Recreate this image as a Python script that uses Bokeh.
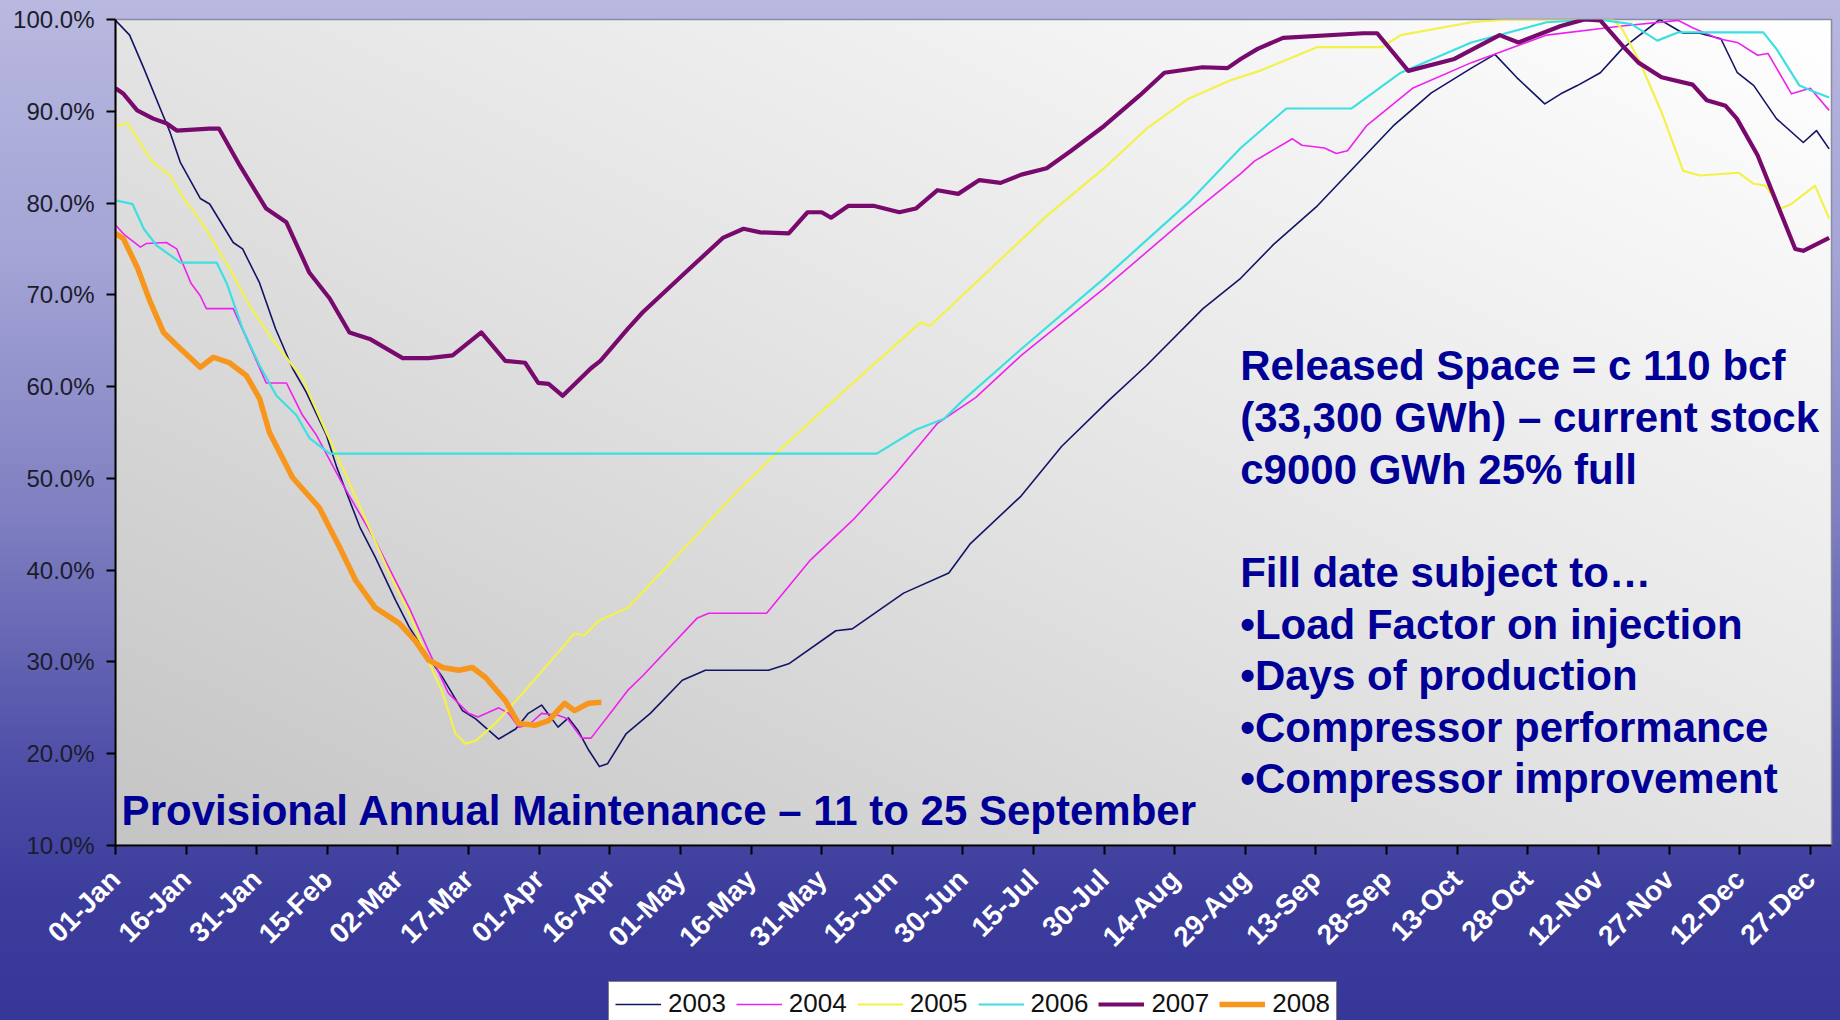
import math
from bokeh.plotting import figure
from bokeh.layouts import column
from bokeh.models import (ColumnDataSource, FixedTicker, PrintfTickFormatter,
                          Label, Legend, LegendItem)
from bokeh.embed import file_html
from bokeh.resources import INLINE

# ---------------- data (day of year, % full) ----------------
TICK_DAYS = list(range(0, 361, 15))
TICK_LABELS = ["01-Jan", "16-Jan", "31-Jan", "15-Feb", "02-Mar", "17-Mar", "01-Apr",
               "16-Apr", "01-May", "16-May", "31-May", "15-Jun", "30-Jun", "15-Jul",
               "30-Jul", "14-Aug", "29-Aug", "13-Sep", "28-Sep", "13-Oct", "28-Oct",
               "12-Nov", "27-Nov", "12-Dec", "27-Dec"]
Y_TICKS = [10, 20, 30, 40, 50, 60, 70, 80, 90, 100]

DAYS_2003 = [0, 3, 6, 9.5, 11.6, 13.8, 18, 20, 25, 27, 30.6, 34, 37.6, 40.5, 44.8, 47, 51.9,
             55.2, 59.5, 62.4, 66.5, 69.5, 73.7, 76.5, 81.4, 85, 87.7, 90.5, 94, 96.2, 98.3,
             100.5, 102.8, 104.5, 108.5, 113.6, 120.4, 125.3, 138.7, 143, 153, 156.5, 167.4,
             177, 181.6, 192.4, 201, 211, 219, 231, 239, 246, 255.3, 271.4, 279.5, 288, 293,
             297.6, 303.6, 307, 310.5, 315.4, 320, 328, 333, 336.5, 341, 344.5, 348, 352.8,
             358.5, 361.3, 364]
PCT_2003 = [99.9, 98.3, 94.7, 90.3, 87.7, 84.4, 80.5, 79.9, 75.7, 75.0, 71.3, 66.3, 62.0, 59.4,
            54.7, 51.2, 44.7, 41.4, 36.7, 33.8, 30.5, 28.3, 24.7, 23.8, 21.6, 22.7, 24.4, 25.3,
            22.9, 23.9, 22.5, 20.4, 18.6, 18.9, 22.2, 24.4, 28.0, 29.1, 29.1, 29.8, 33.4, 33.6,
            37.5, 39.7, 42.9, 48.1, 53.5, 58.5, 62.3, 68.5, 71.8, 75.5, 79.7, 88.4, 92.0, 94.7,
            96.2, 93.7, 90.8, 91.9, 92.8, 94.2, 96.8, 100.0, 98.5, 98.5, 97.9, 94.2, 92.8, 89.2,
            86.6, 87.9, 85.9]

DAYS_2004 = [0, 2, 5.3, 6.6, 10.8, 13, 16, 18, 19.3, 25, 28.5, 32, 36.3, 39.7, 42.7, 48.2,
             55.2, 62.4, 66.5, 70.7, 75, 77, 81.4, 83.5, 85.6, 87.7, 90.5, 94, 96, 99, 101,
             106, 108.8, 112, 123.6, 126, 138.3, 147.6, 156.7, 165.7, 174.6, 182.7, 192.4,
             210, 228, 239, 242, 250, 252, 256.8, 259.3, 261.7, 265.7, 275.5, 288, 304, 320,
             332, 335, 340.5, 344.5, 348.8, 351, 356, 360, 364]
PCT_2004 = [77.6, 76.5, 75.2, 75.6, 75.7, 75.0, 71.3, 69.9, 68.5, 68.5, 64.5, 60.4, 60.4, 56.9,
            54.7, 49.4, 43.2, 35.9, 31.2, 26.6, 24.4, 24.0, 25.0, 24.4, 22.9, 23.1, 24.4, 24.2,
            23.8, 21.7, 21.7, 25.0, 26.9, 28.5, 34.8, 35.3, 35.3, 41.1, 45.5, 50.5, 56.0, 58.8,
            63.4, 70.7, 78.6, 83.2, 84.6, 87.0, 86.3, 86.0, 85.4, 85.7, 88.4, 92.5, 95.3, 98.3,
            99.3, 99.9, 99.1, 97.9, 97.5, 96.1, 96.3, 91.9, 92.5, 90.1]

DAYS_2005 = [0, 2.5, 6, 8, 11.6, 14.5, 17.3, 20, 24.2, 28.5, 32.7, 35.5, 39.7, 44.8, 48.2, 53,
             58.2, 62.4, 65.8, 69.5, 72.2, 74.3, 76.5, 80.7, 87, 92.6, 97.5, 99.6, 102.6, 108.8,
             121, 131.7, 141.5, 150, 171, 173, 197.8, 210, 219, 228, 237, 243, 255.3, 269, 273,
             288, 296, 318, 320, 323.5, 328.4, 333, 336.5, 344.8, 348, 350.5, 353.7, 356, 361,
             364]
PCT_2005 = [88.4, 88.7, 85.9, 84.4, 83.0, 80.5, 78.6, 76.5, 72.9, 68.8, 65.6, 63.7, 60.9, 55.0,
            51.2, 45.7, 39.6, 35.3, 30.9, 26.6, 22.2, 21.1, 21.4, 23.3, 26.9, 30.2, 33.1, 32.9,
            34.5, 35.9, 42.5, 48.4, 53.3, 57.3, 67.0, 66.6, 78.6, 83.8, 88.1, 91.4, 93.4, 94.4,
            97.0, 97.0, 98.3, 99.7, 100.0, 100.0, 99.0, 95.7, 89.9, 83.5, 83.0, 83.3, 82.1, 81.9,
            79.4, 79.9, 81.9, 78.3]

DAYS_2006 = [0, 3.6, 6, 8.7, 13.8, 21.5, 23.6, 27, 30.6, 34.2, 38.4, 41.2, 45.5, 161.7, 170,
             176, 180, 192.4, 210, 228, 239, 248.7, 262.5, 273, 288, 304, 315, 322, 327.5, 332,
             350, 352.8, 357.7, 360, 364]
PCT_2006 = [80.3, 79.9, 77.2, 75.4, 73.5, 73.5, 71.3, 66.3, 62.3, 59.0, 56.9, 54.4, 52.7, 52.7,
            55.3, 56.5, 58.5, 64.1, 71.8, 80.1, 86.0, 90.3, 90.3, 94.2, 97.5, 99.7, 100.0, 99.5,
            97.7, 98.6, 98.6, 96.8, 92.8, 92.3, 91.5]

DAYS_2007 = [0, 1.7, 4.6, 8, 10.8, 13, 20, 22, 26.4, 32, 36.3, 41.2, 45.5, 49.7, 54, 61, 66.5,
             71.6, 77.7, 82.8, 87, 89.8, 92, 95, 101, 103, 108.8, 112, 121, 129, 133.4, 137,
             143, 147, 150, 152, 155.7, 161, 166.5, 170, 174.6, 179, 183.5, 188, 192.4, 197.8,
             203, 210, 217.5, 222.8, 230.9, 236.2, 239, 242.6, 248, 265, 268, 274.6, 284.4, 294,
             298, 307, 312, 315.4, 320, 323.5, 328.4, 335, 338, 342, 344.4, 348.8, 352.8, 356.8,
             358.5, 364]
PCT_2007 = [92.5, 91.9, 90.1, 89.2, 88.7, 87.9, 88.1, 88.1, 84.1, 79.4, 77.9, 72.4, 69.6, 65.9,
            65.2, 63.1, 63.1, 63.4, 65.9, 62.8, 62.6, 60.4, 60.3, 59.0, 62.0, 62.8, 66.3, 68.1,
            72.4, 76.2, 77.2, 76.8, 76.7, 79.0, 79.0, 78.4, 79.7, 79.7, 79.0, 79.4, 81.4, 81.0,
            82.5, 82.2, 83.1, 83.8, 85.7, 88.4, 91.7, 94.2, 94.8, 94.7, 95.7, 96.8, 98.0, 98.5,
            98.5, 94.4, 95.7, 98.3, 97.5, 99.3, 100.0, 99.9, 97.2, 95.3, 93.7, 92.9, 91.2, 90.6,
            89.2, 85.2, 80.1, 75.0, 74.8, 76.2]

DAYS_2008 = [0, 1.7, 4.7, 7.4, 10.2, 13, 18, 20.8, 24.2, 27.8, 30.6, 32.7, 37.6, 43.3, 47.6, 51,
             55.2, 60.3, 63.7, 66.5, 69.5, 72.9, 75.8, 78.6, 82.8, 85.6, 89.2, 92, 95.4, 97.5,
             100.5, 103.2]
PCT_2008 = [76.7, 76.1, 72.9, 69.2, 65.9, 64.5, 62.1, 63.2, 62.6, 61.2, 58.7, 55.0, 50.1, 46.8,
            42.5, 38.9, 35.9, 34.2, 32.3, 30.2, 29.4, 29.1, 29.4, 28.3, 25.8, 23.3, 23.1, 23.6,
            25.5, 24.7, 25.5, 25.6]

SERIES = [
    ("2003", DAYS_2003, PCT_2003, "#141466", 1.6),
    ("2004", DAYS_2004, PCT_2004, "#ee22ee", 1.6),
    ("2005", DAYS_2005, PCT_2005, "#f2f24a", 2.2),
    ("2006", DAYS_2006, PCT_2006, "#3ce0e0", 2.2),
    ("2007", DAYS_2007, PCT_2007, "#780a6e", 4.2),
    ("2008", DAYS_2008, PCT_2008, "#f7961c", 5.5),
]

NOTE_BOTTOM = "Provisional Annual Maintenance \u2013 11 to 25 September"
NOTE_RIGHT = ["Released Space = c 110 bcf",
              "(33,300 GWh) \u2013 current stock",
              "c9000 GWh 25% full",
              "",
              "Fill date subject to\u2026",
              "\u2022Load Factor on injection",
              "\u2022Days of production",
              "\u2022Compressor performance",
              "\u2022Compressor improvement"]

# ---------------- main chart ----------------
BL, BR, BT, BB = 115, 9, 19, 175
FW, FH = 1716, 826

p = figure(frame_width=FW, frame_height=FH, x_range=(0, 364.5), y_range=(10, 100),
           output_backend="svg", toolbar_location=None,
           min_border_left=BL, min_border_right=BR, min_border_top=BT, min_border_bottom=BB)
p.background_fill_alpha = 0
p.border_fill_alpha = 0
p.outline_line_color = "#8c8ca0"
p.outline_line_width = 1.5
p.grid.visible = False

p.styles = {
    "background": (
        f"linear-gradient(to top right, #c4c4c4 0%, #e4e4e4 50%, #ffffff 100%) "
        f"{BL}px {BT}px / {FW}px {FH}px no-repeat, "
        "linear-gradient(to bottom, #b8b8e0 0px, #a4a4d6 255px, #8080c2 510px, "
        "#4e4ea8 765px, #3c3c9c 900px, #37379a 100%)"
    )
}

# axes
p.yaxis.ticker = FixedTicker(ticks=Y_TICKS)
p.yaxis.formatter = PrintfTickFormatter(format="%.1f%%")
p.yaxis.major_label_text_font = "Liberation Sans"
p.yaxis.major_label_text_font_size = "24px"
p.yaxis.major_label_text_color = "#1c1c2c"
p.yaxis.major_label_standoff = 12
p.xaxis.ticker = FixedTicker(ticks=TICK_DAYS)
p.xaxis.major_label_overrides = {d: lab for d, lab in zip(TICK_DAYS, TICK_LABELS)}
p.xaxis.major_label_orientation = math.pi / 4
p.xaxis.major_label_text_font = "Liberation Sans"
p.xaxis.major_label_text_font_style = "bold"
p.xaxis.major_label_text_font_size = "28px"
p.xaxis.major_label_text_color = "white"
p.xaxis.major_label_standoff = 20
for ax in (p.xaxis, p.yaxis):
    ax.axis_line_color = "black"
    ax.axis_line_width = 2
    ax.major_tick_line_color = "black"
    ax.major_tick_line_width = 2
    ax.major_tick_out = 9
    ax.major_tick_in = 0
    ax.minor_tick_out = 0
    ax.minor_tick_in = 0

sources = []
for name, days, pct, color, lw in SERIES:
    src = ColumnDataSource(dict(x=days, y=pct))
    sources.append(src)
    p.line("x", "y", source=src, line_color=color, line_width=lw, line_join="round")

# annotations
TXT = dict(text_font="Liberation Sans", text_font_style="bold", text_font_size="42px",
           text_color="#000096", text_baseline="alphabetic")
p.add_layout(Label(x=1.3, y=13.83, text=NOTE_BOTTOM, **TXT))
line_y = [62.26, 56.63, 51.01, 45.38, 39.76, 34.13, 28.51, 22.88, 17.25]
for txt, yy in zip(NOTE_RIGHT, line_y):
    if txt:
        p.add_layout(Label(x=238.9, y=yy, text=txt, **TXT))

# ---------------- legend strip (overlaps the bottom of the chart, cut by the window) -----
# the column aligns this strip's borders with the chart's (115 left, 9 right),
# so its inner frame is 732px wide and starts at x = 608
LEG_W = 732
leg = figure(width=BL + LEG_W + BR, height=39, x_range=(0, 1), y_range=(0, 1),
             output_backend="svg", toolbar_location=None,
             x_axis_location=None, y_axis_location=None, min_border=0,
             min_border_left=BL, min_border_right=BR)
leg.outline_line_color = None
leg.background_fill_alpha = 0
leg.border_fill_alpha = 0
leg.grid.visible = False
items = []
for (name, days, pct, color, lw), src in zip(SERIES, sources):
    # same data; it lies outside this strip's 0..1 ranges, so only the legend swatch shows
    r = leg.line("x", "y", source=src, line_color=color, line_width=lw)
    items.append(LegendItem(label=name, renderers=[r]))
legend = Legend(items=items, orientation="horizontal", location="top_left",
                label_text_font="Liberation Sans", label_text_font_size="26px",
                label_text_color="#111111", glyph_width=46, glyph_height=24,
                label_standoff=7, spacing=10, padding=6, margin=0,
                border_line_color="black", border_line_width=1.5,
                background_fill_color="white", background_fill_alpha=1.0)
leg.add_layout(legend, "center")
leg.margin = (-39, 0, 0, 608 - BL)

layout = column(p, leg, spacing=0)
open("out.html", "w").write(file_html(layout, INLINE))
